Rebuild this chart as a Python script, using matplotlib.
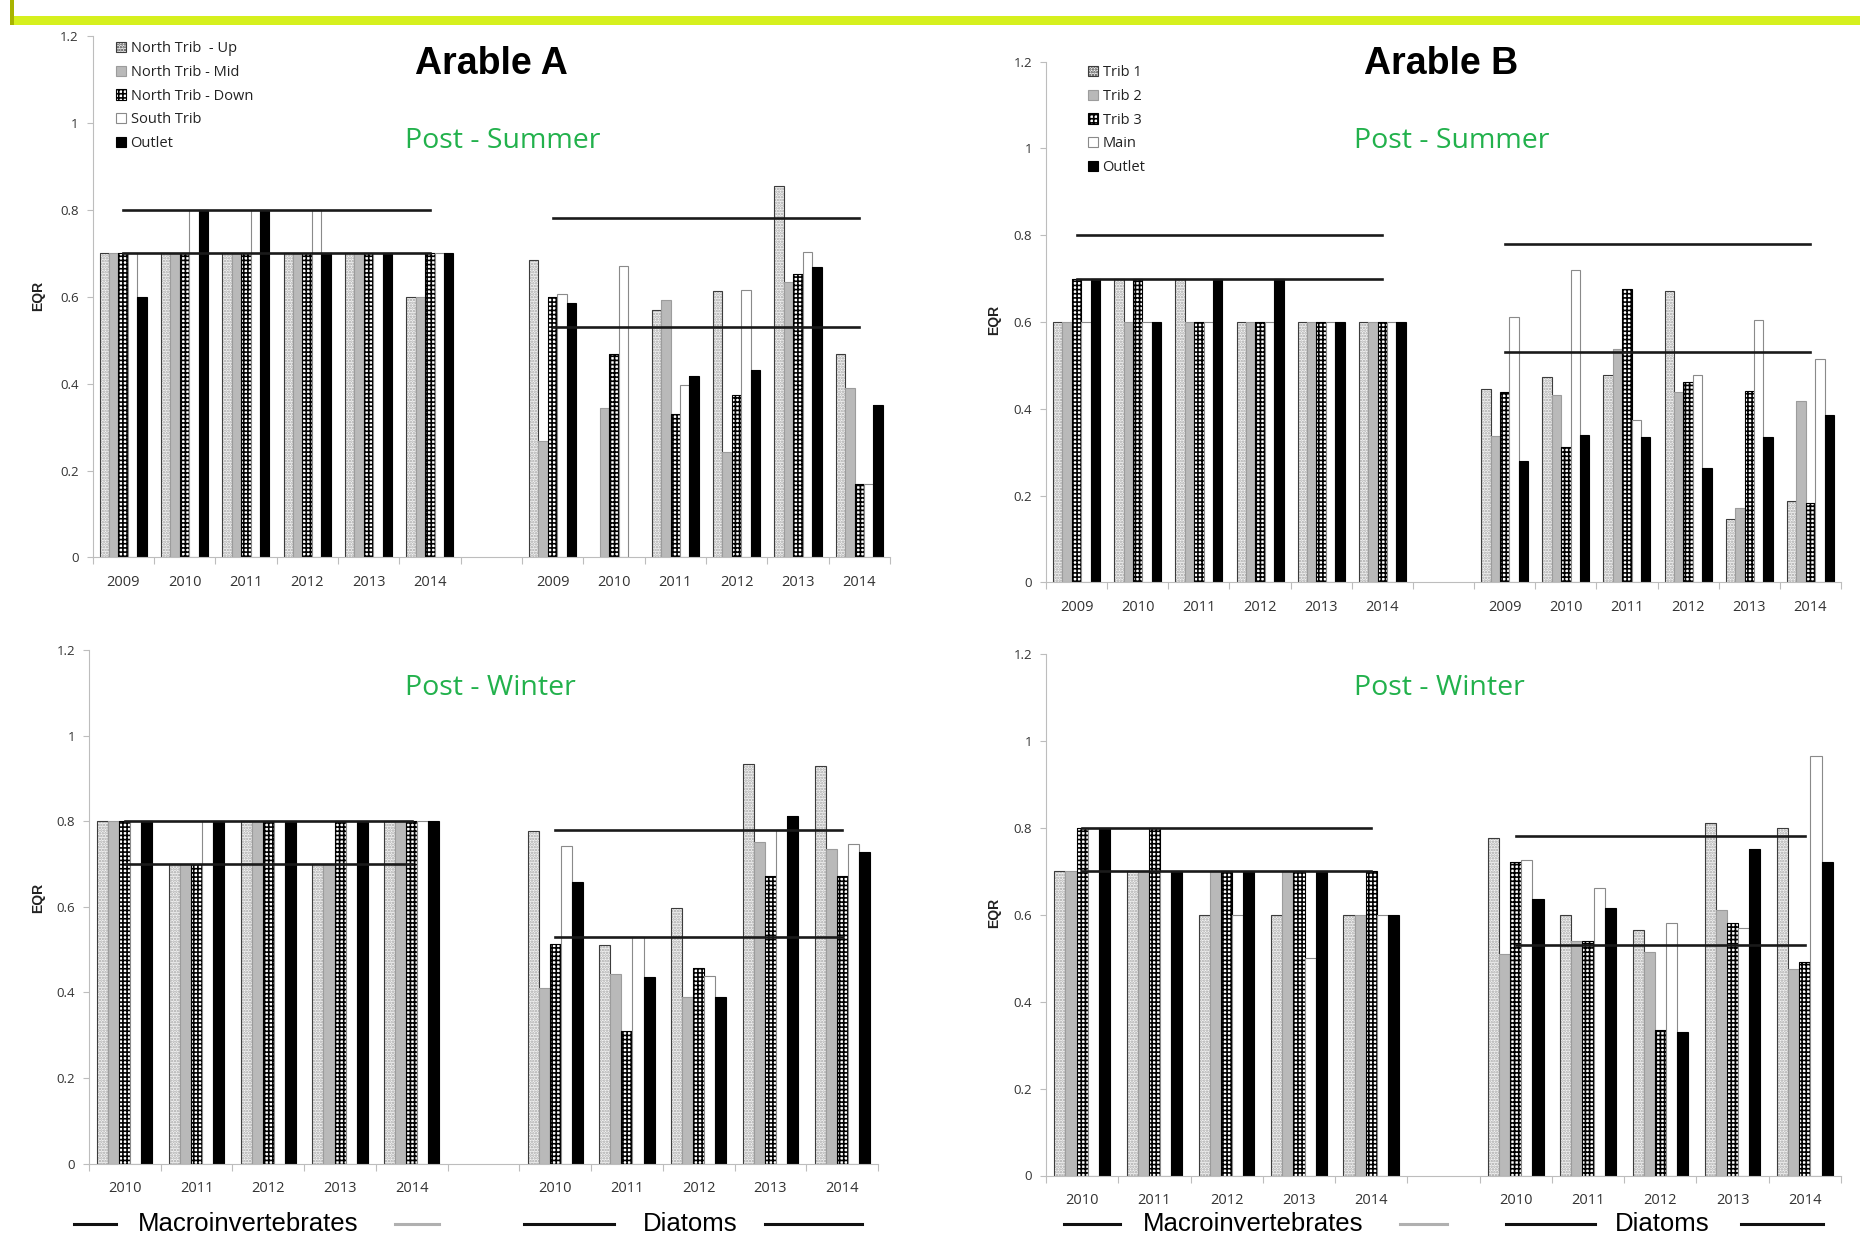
import numpy as np
import matplotlib
matplotlib.use("Agg")
import matplotlib.pyplot as plt
from matplotlib.patches import Patch, Rectangle
from matplotlib.lines import Line2D

plt.rcParams['font.family'] = ['Open Sans', 'DejaVu Sans']
plt.rcParams['hatch.linewidth'] = 1.2

nan = np.nan
W, H = 1860, 1238

years_summer = ['2009', '2010', '2011', '2012', '2013', '2014']
years_winter = ['2010', '2011', '2012', '2013', '2014']

sites_a = ['North Trib  - Up', 'North Trib - Mid', 'North Trib - Down', 'South Trib', 'Outlet']
sites_b = ['Trib 1', 'Trib 2', 'Trib 3', 'Main', 'Outlet']

# EQR values, one row per site (same order as the site lists), one column per year
a_summer_inv = [
    [0.7, 0.7, 0.7, 0.7, 0.7, 0.6],
    [0.7, 0.7, 0.7, 0.7, 0.7, 0.6],
    [0.7, 0.7, 0.7, 0.7, 0.7, 0.7],
    [0.7, 0.8, 0.8, 0.8, 0.7, 0.7],
    [0.6, 0.8, 0.8, 0.7, 0.7, 0.7],
]
a_summer_dia = [
    [0.684, nan, 0.569, 0.612, 0.854, 0.468],
    [0.268, 0.344, 0.591, 0.242, 0.634, 0.390],
    [0.598, 0.467, 0.331, 0.373, 0.651, 0.170],
    [0.605, 0.670, 0.396, 0.614, 0.703, 0.169],
    [0.586, nan, 0.417, 0.432, 0.668, 0.350],
]
b_summer_inv = [
    [0.6, 0.7, 0.7, 0.6, 0.6, 0.6],
    [0.6, 0.6, 0.6, 0.6, 0.6, 0.6],
    [0.7, 0.7, 0.6, 0.6, 0.6, 0.6],
    [0.6, 0.6, 0.6, 0.6, 0.6, 0.6],
    [0.7, 0.6, 0.7, 0.7, 0.6, 0.6],
]
b_summer_dia = [
    [0.446, 0.473, 0.479, 0.672, 0.145, 0.188],
    [0.338, 0.432, 0.537, 0.438, 0.171, 0.419],
    [0.439, 0.311, 0.676, 0.462, 0.440, 0.184],
    [0.611, 0.720, 0.374, 0.478, 0.604, 0.514],
    [0.280, 0.340, 0.336, 0.264, 0.335, 0.386],
]
a_winter_inv = [
    [0.8, 0.7, 0.8, 0.7, 0.8],
    [0.8, 0.7, 0.8, 0.7, 0.8],
    [0.8, 0.7, 0.8, 0.8, 0.8],
    [0.8, 0.8, 0.8, 0.8, 0.8],
    [0.8, 0.8, 0.8, 0.8, 0.8],
]
a_winter_dia = [
    [0.778, 0.512, 0.597, 0.934, 0.928],
    [0.410, 0.442, 0.390, 0.752, 0.735],
    [0.514, 0.309, 0.456, 0.673, 0.673],
    [0.741, 0.530, 0.439, 0.780, 0.746],
    [0.657, 0.437, 0.390, 0.812, 0.727],
]
b_winter_inv = [
    [0.7, 0.7, 0.6, 0.6, 0.6],
    [0.7, 0.7, 0.7, 0.7, 0.6],
    [0.8, 0.8, 0.7, 0.7, 0.7],
    [0.8, 0.7, 0.6, 0.5, 0.6],
    [0.8, 0.7, 0.7, 0.7, 0.6],
]
b_winter_dia = [
    [0.777, 0.600, 0.565, 0.810, 0.800],
    [0.510, 0.540, 0.515, 0.610, 0.475],
    [0.720, 0.540, 0.335, 0.580, 0.490],
    [0.725, 0.660, 0.580, 0.570, 0.965],
    [0.635, 0.615, 0.330, 0.750, 0.720],
]

# class boundaries drawn as horizontal lines
inv_bounds = [0.8, 0.7]
dia_bounds = [0.78, 0.53]

yticks = [0, 0.2, 0.4, 0.6, 0.8, 1.0, 1.2]
ytick_labels = ['0', '0.2', '0.4', '0.6', '0.8', '1', '1.2']

# face, hatch, hatch colour, outline
styles = [
    ('#f3f3f3', '......', '#a6a6a6', '#3c3c3c'),
    ('#b9b9b9', None, '#b9b9b9', '#9c9c9c'),
    ('white', '++++', 'black', 'black'),
    ('white', None, 'white', '#8a8a8a'),
    ('black', None, 'black', 'black'),
]


def fx(x):
    return x / W


def fy(y):
    return 1 - y / H


def panel(rect, years, inv, dia):
    ax = fig.add_axes(rect)
    n = len(years)
    x_inv = np.arange(n)
    x_dia = np.arange(n) + n + 1
    w = 1 / 6.5
    for i, (face, hatch, hcol, edge) in enumerate(styles):
        off = (i - 2) * w
        for xs, vals in ((x_inv, inv[i]), (x_dia, dia[i])):
            ax.bar(xs + off, vals, w, color=face, hatch=hatch, edgecolor=hcol, linewidth=0, zorder=2)
            ax.bar(xs + off, vals, w, fill=False, edgecolor=edge, linewidth=0.8, zorder=2)
    for b in inv_bounds:
        ax.plot([x_inv[0], x_inv[-1]], [b, b], color='#1a1a1a', lw=1.9, zorder=3)
    for b in dia_bounds:
        ax.plot([x_dia[0], x_dia[-1]], [b, b], color='#1a1a1a', lw=1.9, zorder=3)

    ax.set_xlim(-0.5, 2 * n + 0.5)
    ax.set_ylim(0, 1.2)
    ax.set_xticks(np.r_[x_inv, x_dia])
    ax.set_xticklabels(years + years)
    ax.set_xticks(np.arange(-0.5, 2 * n + 1, 1), minor=True)
    ax.tick_params(axis='x', which='major', length=0, pad=12.5, labelsize=10.5, labelcolor='#333333')
    ax.tick_params(axis='x', which='minor', length=5, color='#bdbdbd', width=0.8)
    ax.set_yticks(yticks)
    ax.set_yticklabels(ytick_labels)
    ax.tick_params(axis='y', length=4, color='#bdbdbd', width=0.8, pad=6, labelsize=9.5, labelcolor='#333333')
    for s in ('top', 'right'):
        ax.spines[s].set_visible(False)
    for s in ('left', 'bottom'):
        ax.spines[s].set_color('#bdbdbd')
        ax.spines[s].set_linewidth(0.8)
    return ax


fig = plt.figure(figsize=(W / 100, H / 100), dpi=100)

# banner at the top
fig.add_artist(Rectangle((fx(14), fy(25)), 1, 9 / H, transform=fig.transFigure,
                         facecolor='#d6f01e', edgecolor='none'))
fig.add_artist(Rectangle((fx(10), fy(25)), 4 / W, 25 / H, transform=fig.transFigure,
                         facecolor='#a8b400', edgecolor='none'))

ax1 = panel([fx(92.5), fy(557.5), (890 - 92.5) / W, (557.5 - 35.6) / H], years_summer, a_summer_inv, a_summer_dia)
ax2 = panel([fx(1046), fy(582.4), (1841 - 1046) / W, (582.4 - 61.7) / H], years_summer, b_summer_inv, b_summer_dia)
ax3 = panel([fx(89), fy(1163.7), (878 - 89) / W, (1163.7 - 650) / H], years_winter, a_winter_inv, a_winter_dia)
ax4 = panel([fx(1046), fy(1175.5), (1841 - 1046) / W, (1175.5 - 653.6) / H], years_winter, b_winter_inv, b_winter_dia)

# legends
for ax, names, x0, y0 in ((ax1, sites_a, 116, 41), (ax2, sites_b, 1088, 65)):
    handles = [Patch(facecolor=f, hatch=h, edgecolor=e, linewidth=0.8) for f, h, hc, e in styles]
    ax.legend(handles, names, loc='upper left', bbox_to_anchor=(fx(x0), fy(y0)),
              bbox_transform=fig.transFigure, frameon=False, borderpad=0, borderaxespad=0,
              handlelength=0.7, handleheight=0.7, handletextpad=0.3, labelspacing=0.6,
              fontsize=10.5, labelcolor='#222222')

# titles
for x, t in ((491, 'Arable A'), (1441, 'Arable B')):
    fig.text(fx(x), fy(74), t, ha='center', va='baseline', fontsize=27, fontweight='bold',
             family='Liberation Sans')
for x, y, t in ((503, 148, 'Post - Summer'), (1452, 148, 'Post - Summer'),
                (490, 695, 'Post - Winter'), (1439, 695, 'Post - Winter')):
    fig.text(fx(x), fy(y), t, ha='center', va='baseline', fontsize=20.5, color='#22b14c')

for x, y in ((38, 296), (994, 320), (38, 898), (994, 913)):
    fig.text(fx(x), fy(y), 'EQR', rotation=90, ha='center', va='center', fontsize=10,
             fontweight='bold', family='Liberation Sans', color='#222222')

# group captions along the bottom edge, with the lines beside them
for x, t in ((248, 'Macroinvertebrates'), (690, 'Diatoms'),
             (1253, 'Macroinvertebrates'), (1662, 'Diatoms')):
    fig.text(fx(x), fy(1231), t, ha='center', va='baseline', fontsize=18.5, family='Liberation Sans')
for x0, x1, c in ((74, 116, '#111111'), (395, 439, '#b0b0b0'), (524, 614, '#111111'), (765, 862, '#111111'),
                  (1064, 1120, '#111111'), (1400, 1447, '#b0b0b0'), (1506, 1595, '#111111'),
                  (1741, 1823, '#111111')):
    fig.add_artist(Line2D([fx(x0), fx(x1)], [fy(1224), fy(1224)], transform=fig.transFigure,
                          color=c, lw=2.2))

fig.savefig('out.png', dpi=100)
